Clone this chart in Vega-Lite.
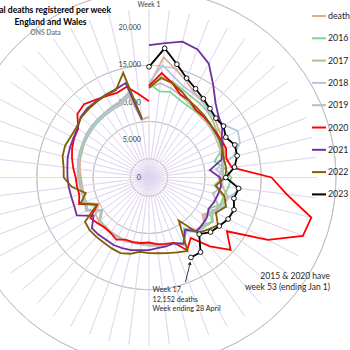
{
"$schema": "https://vega.github.io/schema/vega-lite/v6.json",
"width": 298, "height": 355,
"autosize": {"type": "none"},
"padding": {"left": 0, "top": 0, "right": 52, "bottom": 0},
"background": "white",
"config": {"view": {"stroke": null}, "font": "Lato"},
"datasets": {
"rings": [{"level":0},{"level":2500},{"level":5000},{"level":7500},{"level":10000},{"level":12500},{"level":15000},{"level":17500},{"level":20000},{"level":22500}],
"spokes": [{"week":1},{"week":2},{"week":3},{"week":4},{"week":5},{"week":6},{"week":7},{"week":8},{"week":9},{"week":10},{"week":11},{"week":12},{"week":13},{"week":14},{"week":15},{"week":16},{"week":17},{"week":18},{"week":19},{"week":20},{"week":21},{"week":22},{"week":23},{"week":24},{"week":25},{"week":26},{"week":27},{"week":28},{"week":29},{"week":30},{"week":31},{"week":32},{"week":33},{"week":34},{"week":35},{"week":36},{"week":37},{"week":38},{"week":39},{"week":40},{"week":41},{"week":42},{"week":43},{"week":44},{"week":45},{"week":46},{"week":47},{"week":48},{"week":49},{"week":50},{"week":51},{"week":52}],
"weekly": [
{"series":"deaths","week":1,"deaths":12300},{"series":"deaths","week":2,"deaths":16200},{"series":"deaths","week":3,"deaths":14900},{"series":"deaths","week":4,"deaths":13900},{"series":"deaths","week":5,"deaths":12900},{"series":"deaths","week":6,"deaths":12600},{"series":"deaths","week":7,"deaths":12000},{"series":"deaths","week":8,"deaths":11800},{"series":"deaths","week":9,"deaths":11300},{"series":"deaths","week":10,"deaths":11200},{"series":"deaths","week":11,"deaths":10700},{"series":"deaths","week":12,"deaths":10400},{"series":"deaths","week":13,"deaths":9800},{"series":"deaths","week":14,"deaths":9300},{"series":"deaths","week":15,"deaths":9900},{"series":"deaths","week":16,"deaths":10900},{"series":"deaths","week":17,"deaths":10300},{"series":"deaths","week":18,"deaths":9800},{"series":"deaths","week":19,"deaths":8700},{"series":"deaths","week":20,"deaths":9900},{"series":"deaths","week":21,"deaths":9300},{"series":"deaths","week":22,"deaths":8300},{"series":"deaths","week":23,"deaths":10000},{"series":"deaths","week":24,"deaths":9400},{"series":"deaths","week":25,"deaths":9200},{"series":"deaths","week":26,"deaths":9100},{"series":"deaths","week":27,"deaths":9000},{"series":"deaths","week":28,"deaths":8900},{"series":"deaths","week":29,"deaths":9000},{"series":"deaths","week":30,"deaths":9000},{"series":"deaths","week":31,"deaths":8900},{"series":"deaths","week":32,"deaths":8900},{"series":"deaths","week":33,"deaths":8800},{"series":"deaths","week":34,"deaths":8900},{"series":"deaths","week":35,"deaths":8700},{"series":"deaths","week":36,"deaths":7600},{"series":"deaths","week":37,"deaths":9400},{"series":"deaths","week":38,"deaths":9000},{"series":"deaths","week":39,"deaths":9000},{"series":"deaths","week":40,"deaths":9100},{"series":"deaths","week":41,"deaths":9300},{"series":"deaths","week":42,"deaths":9500},{"series":"deaths","week":43,"deaths":9600},{"series":"deaths","week":44,"deaths":9800},{"series":"deaths","week":45,"deaths":9900},{"series":"deaths","week":46,"deaths":10000},{"series":"deaths","week":47,"deaths":10100},{"series":"deaths","week":48,"deaths":10200},{"series":"deaths","week":49,"deaths":10300},{"series":"deaths","week":50,"deaths":10400},{"series":"deaths","week":51,"deaths":11200},{"series":"deaths","week":52,"deaths":7800},{"series":"deaths","week":53,"deaths":8100},
{"series":"2016","week":1,"deaths":12600},{"series":"2016","week":2,"deaths":11600},{"series":"2016","week":3,"deaths":11800},{"series":"2016","week":4,"deaths":11200},{"series":"2016","week":5,"deaths":10900},{"series":"2016","week":6,"deaths":10800},{"series":"2016","week":7,"deaths":10700},{"series":"2016","week":8,"deaths":10800},{"series":"2016","week":9,"deaths":10800},{"series":"2016","week":10,"deaths":10600},{"series":"2016","week":11,"deaths":10400},{"series":"2016","week":12,"deaths":9000},{"series":"2016","week":13,"deaths":10200},{"series":"2016","week":14,"deaths":11000},{"series":"2016","week":15,"deaths":10700},{"series":"2016","week":16,"deaths":10300},{"series":"2016","week":17,"deaths":10200},{"series":"2016","week":18,"deaths":9000},{"series":"2016","week":19,"deaths":10300},{"series":"2016","week":20,"deaths":9700},{"series":"2016","week":21,"deaths":9500},{"series":"2016","week":22,"deaths":8300},{"series":"2016","week":23,"deaths":10100},{"series":"2016","week":24,"deaths":9400},{"series":"2016","week":25,"deaths":9300},{"series":"2016","week":26,"deaths":9100},{"series":"2016","week":27,"deaths":9000},{"series":"2016","week":28,"deaths":9000},{"series":"2016","week":29,"deaths":8900},{"series":"2016","week":30,"deaths":9000},{"series":"2016","week":31,"deaths":8900},{"series":"2016","week":32,"deaths":8900},{"series":"2016","week":33,"deaths":8800},{"series":"2016","week":34,"deaths":8700},{"series":"2016","week":35,"deaths":7600},{"series":"2016","week":36,"deaths":9300},{"series":"2016","week":37,"deaths":9000},{"series":"2016","week":38,"deaths":9100},{"series":"2016","week":39,"deaths":9200},{"series":"2016","week":40,"deaths":9300},{"series":"2016","week":41,"deaths":9500},{"series":"2016","week":42,"deaths":9600},{"series":"2016","week":43,"deaths":9700},{"series":"2016","week":44,"deaths":9800},{"series":"2016","week":45,"deaths":9900},{"series":"2016","week":46,"deaths":10000},{"series":"2016","week":47,"deaths":10100},{"series":"2016","week":48,"deaths":10200},{"series":"2016","week":49,"deaths":10400},{"series":"2016","week":50,"deaths":10600},{"series":"2016","week":51,"deaths":11400},{"series":"2016","week":52,"deaths":7700},
{"series":"2017","week":1,"deaths":11900},{"series":"2017","week":2,"deaths":13600},{"series":"2017","week":3,"deaths":13200},{"series":"2017","week":4,"deaths":12600},{"series":"2017","week":5,"deaths":12200},{"series":"2017","week":6,"deaths":12000},{"series":"2017","week":7,"deaths":11800},{"series":"2017","week":8,"deaths":11400},{"series":"2017","week":9,"deaths":11000},{"series":"2017","week":10,"deaths":10600},{"series":"2017","week":11,"deaths":10400},{"series":"2017","week":12,"deaths":10300},{"series":"2017","week":13,"deaths":10000},{"series":"2017","week":14,"deaths":9900},{"series":"2017","week":15,"deaths":8800},{"series":"2017","week":16,"deaths":10200},{"series":"2017","week":17,"deaths":11000},{"series":"2017","week":18,"deaths":9500},{"series":"2017","week":19,"deaths":10400},{"series":"2017","week":20,"deaths":9900},{"series":"2017","week":21,"deaths":9700},{"series":"2017","week":22,"deaths":8400},{"series":"2017","week":23,"deaths":10200},{"series":"2017","week":24,"deaths":9500},{"series":"2017","week":25,"deaths":9300},{"series":"2017","week":26,"deaths":9200},{"series":"2017","week":27,"deaths":9100},{"series":"2017","week":28,"deaths":9000},{"series":"2017","week":29,"deaths":9000},{"series":"2017","week":30,"deaths":9000},{"series":"2017","week":31,"deaths":9000},{"series":"2017","week":32,"deaths":9000},{"series":"2017","week":33,"deaths":8900},{"series":"2017","week":34,"deaths":8900},{"series":"2017","week":35,"deaths":7800},{"series":"2017","week":36,"deaths":9500},{"series":"2017","week":37,"deaths":9100},{"series":"2017","week":38,"deaths":9200},{"series":"2017","week":39,"deaths":9300},{"series":"2017","week":40,"deaths":9500},{"series":"2017","week":41,"deaths":9600},{"series":"2017","week":42,"deaths":9700},{"series":"2017","week":43,"deaths":9800},{"series":"2017","week":44,"deaths":9900},{"series":"2017","week":45,"deaths":10100},{"series":"2017","week":46,"deaths":10200},{"series":"2017","week":47,"deaths":10300},{"series":"2017","week":48,"deaths":10400},{"series":"2017","week":49,"deaths":10600},{"series":"2017","week":50,"deaths":10800},{"series":"2017","week":51,"deaths":11600},{"series":"2017","week":52,"deaths":7900},
{"series":"2018","week":1,"deaths":12700},{"series":"2018","week":2,"deaths":15100},{"series":"2018","week":3,"deaths":13900},{"series":"2018","week":4,"deaths":13000},{"series":"2018","week":5,"deaths":12700},{"series":"2018","week":6,"deaths":12400},{"series":"2018","week":7,"deaths":12000},{"series":"2018","week":8,"deaths":11900},{"series":"2018","week":9,"deaths":12300},{"series":"2018","week":10,"deaths":13400},{"series":"2018","week":11,"deaths":13000},{"series":"2018","week":12,"deaths":11600},{"series":"2018","week":13,"deaths":9000},{"series":"2018","week":14,"deaths":10200},{"series":"2018","week":15,"deaths":12400},{"series":"2018","week":16,"deaths":11000},{"series":"2018","week":17,"deaths":10600},{"series":"2018","week":18,"deaths":9900},{"series":"2018","week":19,"deaths":9300},{"series":"2018","week":20,"deaths":10000},{"series":"2018","week":21,"deaths":9800},{"series":"2018","week":22,"deaths":8700},{"series":"2018","week":23,"deaths":10100},{"series":"2018","week":24,"deaths":9500},{"series":"2018","week":25,"deaths":9400},{"series":"2018","week":26,"deaths":9200},{"series":"2018","week":27,"deaths":9100},{"series":"2018","week":28,"deaths":9000},{"series":"2018","week":29,"deaths":9000},{"series":"2018","week":30,"deaths":9100},{"series":"2018","week":31,"deaths":9000},{"series":"2018","week":32,"deaths":8900},{"series":"2018","week":33,"deaths":8900},{"series":"2018","week":34,"deaths":8800},{"series":"2018","week":35,"deaths":7700},{"series":"2018","week":36,"deaths":9400},{"series":"2018","week":37,"deaths":9100},{"series":"2018","week":38,"deaths":9100},{"series":"2018","week":39,"deaths":9200},{"series":"2018","week":40,"deaths":9400},{"series":"2018","week":41,"deaths":9500},{"series":"2018","week":42,"deaths":9700},{"series":"2018","week":43,"deaths":9800},{"series":"2018","week":44,"deaths":9900},{"series":"2018","week":45,"deaths":10000},{"series":"2018","week":46,"deaths":10100},{"series":"2018","week":47,"deaths":10200},{"series":"2018","week":48,"deaths":10300},{"series":"2018","week":49,"deaths":10400},{"series":"2018","week":50,"deaths":10500},{"series":"2018","week":51,"deaths":11300},{"series":"2018","week":52,"deaths":7900},
{"series":"2019","week":1,"deaths":12000},{"series":"2019","week":2,"deaths":12700},{"series":"2019","week":3,"deaths":12300},{"series":"2019","week":4,"deaths":11800},{"series":"2019","week":5,"deaths":11300},{"series":"2019","week":6,"deaths":11000},{"series":"2019","week":7,"deaths":10700},{"series":"2019","week":8,"deaths":10600},{"series":"2019","week":9,"deaths":10500},{"series":"2019","week":10,"deaths":10300},{"series":"2019","week":11,"deaths":10200},{"series":"2019","week":12,"deaths":10000},{"series":"2019","week":13,"deaths":9900},{"series":"2019","week":14,"deaths":9800},{"series":"2019","week":15,"deaths":9900},{"series":"2019","week":16,"deaths":8800},{"series":"2019","week":17,"deaths":9800},{"series":"2019","week":18,"deaths":10200},{"series":"2019","week":19,"deaths":9000},{"series":"2019","week":20,"deaths":9900},{"series":"2019","week":21,"deaths":9700},{"series":"2019","week":22,"deaths":8400},{"series":"2019","week":23,"deaths":10000},{"series":"2019","week":24,"deaths":9400},{"series":"2019","week":25,"deaths":9300},{"series":"2019","week":26,"deaths":9100},{"series":"2019","week":27,"deaths":9000},{"series":"2019","week":28,"deaths":9000},{"series":"2019","week":29,"deaths":9000},{"series":"2019","week":30,"deaths":9100},{"series":"2019","week":31,"deaths":9000},{"series":"2019","week":32,"deaths":8900},{"series":"2019","week":33,"deaths":8900},{"series":"2019","week":34,"deaths":8800},{"series":"2019","week":35,"deaths":7700},{"series":"2019","week":36,"deaths":9500},{"series":"2019","week":37,"deaths":9200},{"series":"2019","week":38,"deaths":9200},{"series":"2019","week":39,"deaths":9300},{"series":"2019","week":40,"deaths":9500},{"series":"2019","week":41,"deaths":9600},{"series":"2019","week":42,"deaths":9800},{"series":"2019","week":43,"deaths":9900},{"series":"2019","week":44,"deaths":10000},{"series":"2019","week":45,"deaths":10200},{"series":"2019","week":46,"deaths":10300},{"series":"2019","week":47,"deaths":10400},{"series":"2019","week":48,"deaths":10500},{"series":"2019","week":49,"deaths":10700},{"series":"2019","week":50,"deaths":10900},{"series":"2019","week":51,"deaths":11600},{"series":"2019","week":52,"deaths":7900},
{"series":"2020","week":1,"deaths":12254},{"series":"2020","week":2,"deaths":14058},{"series":"2020","week":3,"deaths":12990},{"series":"2020","week":4,"deaths":11856},{"series":"2020","week":5,"deaths":11612},{"series":"2020","week":6,"deaths":10986},{"series":"2020","week":7,"deaths":10944},{"series":"2020","week":8,"deaths":10841},{"series":"2020","week":9,"deaths":10816},{"series":"2020","week":10,"deaths":10895},{"series":"2020","week":11,"deaths":11019},{"series":"2020","week":12,"deaths":10645},{"series":"2020","week":13,"deaths":11141},{"series":"2020","week":14,"deaths":16387},{"series":"2020","week":15,"deaths":18516},{"series":"2020","week":16,"deaths":22351},{"series":"2020","week":17,"deaths":21997},{"series":"2020","week":18,"deaths":17953},{"series":"2020","week":19,"deaths":12657},{"series":"2020","week":20,"deaths":14573},{"series":"2020","week":21,"deaths":12288},{"series":"2020","week":22,"deaths":9824},{"series":"2020","week":23,"deaths":10975},{"series":"2020","week":24,"deaths":9339},{"series":"2020","week":25,"deaths":9140},{"series":"2020","week":26,"deaths":8979},{"series":"2020","week":27,"deaths":8690},{"series":"2020","week":28,"deaths":8823},{"series":"2020","week":29,"deaths":8891},{"series":"2020","week":30,"deaths":8891},{"series":"2020","week":31,"deaths":9392},{"series":"2020","week":32,"deaths":9009},{"series":"2020","week":33,"deaths":8945},{"series":"2020","week":34,"deaths":9200},{"series":"2020","week":35,"deaths":9500},{"series":"2020","week":36,"deaths":7800},{"series":"2020","week":37,"deaths":10000},{"series":"2020","week":38,"deaths":9600},{"series":"2020","week":39,"deaths":9700},{"series":"2020","week":40,"deaths":9800},{"series":"2020","week":41,"deaths":10200},{"series":"2020","week":42,"deaths":10600},{"series":"2020","week":43,"deaths":11000},{"series":"2020","week":44,"deaths":11300},{"series":"2020","week":45,"deaths":11500},{"series":"2020","week":46,"deaths":12800},{"series":"2020","week":47,"deaths":13100},{"series":"2020","week":48,"deaths":12600},{"series":"2020","week":49,"deaths":12300},{"series":"2020","week":50,"deaths":12100},{"series":"2020","week":51,"deaths":12500},{"series":"2020","week":52,"deaths":11200},{"series":"2020","week":53,"deaths":10200},
{"series":"2021","week":1,"deaths":17700},{"series":"2021","week":2,"deaths":18100},{"series":"2021","week":3,"deaths":18700},{"series":"2021","week":4,"deaths":18300},{"series":"2021","week":5,"deaths":17200},{"series":"2021","week":6,"deaths":15100},{"series":"2021","week":7,"deaths":13400},{"series":"2021","week":8,"deaths":12400},{"series":"2021","week":9,"deaths":11900},{"series":"2021","week":10,"deaths":11000},{"series":"2021","week":11,"deaths":10500},{"series":"2021","week":12,"deaths":10000},{"series":"2021","week":13,"deaths":8200},{"series":"2021","week":14,"deaths":9500},{"series":"2021","week":15,"deaths":9700},{"series":"2021","week":16,"deaths":9500},{"series":"2021","week":17,"deaths":9300},{"series":"2021","week":18,"deaths":9000},{"series":"2021","week":19,"deaths":9400},{"series":"2021","week":20,"deaths":9500},{"series":"2021","week":21,"deaths":9600},{"series":"2021","week":22,"deaths":8500},{"series":"2021","week":23,"deaths":10000},{"series":"2021","week":24,"deaths":9400},{"series":"2021","week":25,"deaths":9500},{"series":"2021","week":26,"deaths":9500},{"series":"2021","week":27,"deaths":9700},{"series":"2021","week":28,"deaths":9800},{"series":"2021","week":29,"deaths":10000},{"series":"2021","week":30,"deaths":10100},{"series":"2021","week":31,"deaths":10200},{"series":"2021","week":32,"deaths":10100},{"series":"2021","week":33,"deaths":10200},{"series":"2021","week":34,"deaths":10200},{"series":"2021","week":35,"deaths":9000},{"series":"2021","week":36,"deaths":10900},{"series":"2021","week":37,"deaths":10700},{"series":"2021","week":38,"deaths":10700},{"series":"2021","week":39,"deaths":10800},{"series":"2021","week":40,"deaths":10900},{"series":"2021","week":41,"deaths":11000},{"series":"2021","week":42,"deaths":11200},{"series":"2021","week":43,"deaths":11300},{"series":"2021","week":44,"deaths":11400},{"series":"2021","week":45,"deaths":11600},{"series":"2021","week":46,"deaths":12200},{"series":"2021","week":47,"deaths":12400},{"series":"2021","week":48,"deaths":12400},{"series":"2021","week":49,"deaths":12500},{"series":"2021","week":50,"deaths":12600},{"series":"2021","week":51,"deaths":13000},{"series":"2021","week":52,"deaths":7800},
{"series":"2022","week":1,"deaths":12000},{"series":"2022","week":2,"deaths":13400},{"series":"2022","week":3,"deaths":13000},{"series":"2022","week":4,"deaths":12300},{"series":"2022","week":5,"deaths":11600},{"series":"2022","week":6,"deaths":11300},{"series":"2022","week":7,"deaths":11100},{"series":"2022","week":8,"deaths":10900},{"series":"2022","week":9,"deaths":10700},{"series":"2022","week":10,"deaths":10700},{"series":"2022","week":11,"deaths":10500},{"series":"2022","week":12,"deaths":10300},{"series":"2022","week":13,"deaths":10400},{"series":"2022","week":14,"deaths":10200},{"series":"2022","week":15,"deaths":9000},{"series":"2022","week":16,"deaths":10400},{"series":"2022","week":17,"deaths":11000},{"series":"2022","week":18,"deaths":10100},{"series":"2022","week":19,"deaths":11200},{"series":"2022","week":20,"deaths":10500},{"series":"2022","week":21,"deaths":9900},{"series":"2022","week":22,"deaths":7000},{"series":"2022","week":23,"deaths":11100},{"series":"2022","week":24,"deaths":10700},{"series":"2022","week":25,"deaths":10400},{"series":"2022","week":26,"deaths":10200},{"series":"2022","week":27,"deaths":10100},{"series":"2022","week":28,"deaths":10000},{"series":"2022","week":29,"deaths":10500},{"series":"2022","week":30,"deaths":10800},{"series":"2022","week":31,"deaths":10700},{"series":"2022","week":32,"deaths":10600},{"series":"2022","week":33,"deaths":10600},{"series":"2022","week":34,"deaths":10600},{"series":"2022","week":35,"deaths":10400},{"series":"2022","week":36,"deaths":7900},{"series":"2022","week":37,"deaths":9800},{"series":"2022","week":38,"deaths":8700},{"series":"2022","week":39,"deaths":10400},{"series":"2022","week":40,"deaths":11400},{"series":"2022","week":41,"deaths":11500},{"series":"2022","week":42,"deaths":11900},{"series":"2022","week":43,"deaths":12000},{"series":"2022","week":44,"deaths":11800},{"series":"2022","week":45,"deaths":11800},{"series":"2022","week":46,"deaths":12100},{"series":"2022","week":47,"deaths":12200},{"series":"2022","week":48,"deaths":12300},{"series":"2022","week":49,"deaths":12400},{"series":"2022","week":50,"deaths":12500},{"series":"2022","week":51,"deaths":14400},{"series":"2022","week":52,"deaths":8000},
{"series":"2023","week":1,"deaths":14800},{"series":"2023","week":2,"deaths":17400},{"series":"2023","week":3,"deaths":15600},{"series":"2023","week":4,"deaths":14200},{"series":"2023","week":5,"deaths":13400},{"series":"2023","week":6,"deaths":12800},{"series":"2023","week":7,"deaths":12300},{"series":"2023","week":8,"deaths":11950},{"series":"2023","week":9,"deaths":12100},{"series":"2023","week":10,"deaths":11600},{"series":"2023","week":11,"deaths":12270},{"series":"2023","week":12,"deaths":12140},{"series":"2023","week":13,"deaths":11520},{"series":"2023","week":14,"deaths":10270},{"series":"2023","week":15,"deaths":12070},{"series":"2023","week":16,"deaths":11690},{"series":"2023","week":17,"deaths":12152},{"series":"2023","week":18,"deaths":11950},{"series":"2023","week":19,"deaths":11430},{"series":"2023","week":20,"deaths":11000},{"series":"2023","week":21,"deaths":10120},{"series":"2023","week":22,"deaths":12130},{"series":"2023","week":23,"deaths":12070}
]
},
"layer": [
{"data": {"name": "rings"}, "transform": [{"filter": "datum.level > 0"}],
 "mark": {"type": "arc", "theta": 0, "theta2": 6.2832, "filled": false, "stroke": "#c4c4c4", "strokeWidth": 1},
 "encoding": {"radius": {"field": "level", "type": "quantitative", "scale": {"type": "linear", "domain": [0, 22500], "range": [0, 168.3], "zero": true}}}},
{"data": {"name": "spokes"},
 "mark": {"type": "arc", "filled": false, "stroke": "#e0d6ef", "strokeWidth": 0.75},
 "encoding": {
   "theta": {"field": "week", "type": "quantitative", "stack": null, "scale": {"type": "linear", "domain": [1, 53], "range": [0, 6.283185]}},
   "theta2": {"field": "week"},
   "radius": {"datum": 22500, "type": "quantitative"}}},
{"data": {"name": "rings"}, "transform": [{"filter": "datum.level % 5000 == 0 && datum.level <= 20000"}],
 "mark": {"type": "text", "align": "right", "baseline": "middle", "dx": -8, "fontSize": 7.2, "color": "#404040"},
 "encoding": {
   "x": {"datum": 0, "type": "quantitative", "scale": {"domain": [-19920, 19920], "nice": false, "zero": false}, "axis": null},
   "y": {"field": "level", "type": "quantitative", "scale": {"domain": [-23730, 23730], "nice": false, "zero": false}, "axis": null},
   "text": {"field": "level", "type": "quantitative", "format": ","}}},
{"data": {"values": [{}]},
 "mark": {"type": "text", "text": "Week 1", "align": "center", "baseline": "middle", "fontSize": 6.8, "color": "#404040"},
 "encoding": {"x": {"datum": 0, "type": "quantitative"}, "y": {"datum": 23060, "type": "quantitative"}}},
{"data": {"name": "weekly"},
 "transform": [
   {"calculate": "datum.deaths * sin((datum.week - 1) * 2 * PI / 52)", "as": "px"},
   {"calculate": "datum.deaths * cos((datum.week - 1) * 2 * PI / 52)", "as": "py"}],
 "layer": [
   {"mark": {"type": "line", "strokeWidth": 1.8, "clip": false},
    "encoding": {
      "x": {"field": "px", "type": "quantitative"},
      "y": {"field": "py", "type": "quantitative"},
      "order": {"field": "week", "type": "quantitative"},
      "color": {"field": "series", "type": "nominal",
        "scale": {"domain": ["deaths", "2016", "2017", "2018", "2019", "2020", "2021", "2022", "2023"],
                  "range": ["#dcae96", "#78d896", "#a3c49a", "#b4c7e0", "#bcbcbc", "#ff0000", "#7030a0", "#806000", "#000000"]},
        "legend": {"orient": "none", "legendX": 311, "legendY": 8, "title": null, "padding": 0,
                   "symbolType": "stroke", "symbolSize": 196, "symbolStrokeWidth": 2,
                   "labelFontSize": 8.8, "labelColor": "#222222", "labelFont": "Lato", "labelOffset": 1, "rowPadding": 9.3}}}},
   {"transform": [{"filter": "datum.series == '2023'"}],
    "mark": {"type": "point", "shape": "circle", "filled": true, "fill": "white", "stroke": "black", "strokeWidth": 0.9, "size": 22, "opacity": 1},
    "encoding": {"x": {"field": "px", "type": "quantitative"}, "y": {"field": "py", "type": "quantitative"}}}
 ]},
{"data": {"values": [{}]},
 "mark": {"type": "text", "text": ["Week 17,", "12,152 deaths", "Week ending 28 April"], "align": "left", "baseline": "top", "fontSize": 7.2, "lineHeight": 9.7, "color": "#262626"},
 "encoding": {"x": {"datum": 468, "type": "quantitative"}, "y": {"datum": -14505, "type": "quantitative"}}},
{"data": {"values": [{}]},
 "mark": {"type": "text", "text": ["2015 & 2020 have", "week 53 (ending Jan 1)"], "align": "right", "baseline": "top", "fontSize": 8.5, "lineHeight": 11.3, "color": "#262626"},
 "encoding": {"x": {"datum": 24198, "type": "quantitative"}, "y": {"datum": -12567, "type": "quantitative"}}},
{"data": {"values": [{}]},
 "mark": {"type": "rule", "color": "#262626", "strokeWidth": 0.9},
 "encoding": {"x": {"datum": 4880, "type": "quantitative"}, "y": {"datum": -13970, "type": "quantitative"}, "x2": {"datum": 5430}, "y2": {"datum": -11700}}},
{"data": {"values": [{}]},
 "mark": {"type": "point", "shape": "triangle-up", "filled": true, "color": "#262626", "size": 16, "angle": 13, "opacity": 1},
 "encoding": {"x": {"datum": 5480, "type": "quantitative"}, "y": {"datum": -11450, "type": "quantitative"}}},
{"data": {"values": [{}]},
 "mark": {"type": "text", "text": "Total deaths registered per week", "align": "center", "baseline": "middle", "fontSize": 8.6, "fontWeight": "bold", "color": "#000000"},
 "encoding": {"x": {"datum": -13369, "type": "quantitative"}, "y": {"datum": 22393, "type": "quantitative"}}},
{"data": {"values": [{}]},
 "mark": {"type": "text", "text": "England and Wales", "align": "center", "baseline": "middle", "fontSize": 8.6, "fontWeight": "bold", "color": "#000000"},
 "encoding": {"x": {"datum": -13168, "type": "quantitative"}, "y": {"datum": 20749, "type": "quantitative"}}},
{"data": {"values": [{}]},
 "mark": {"type": "text", "text": "ONS Data", "align": "center", "baseline": "middle", "fontSize": 6.8, "fontWeight": "bold", "color": "#808080"},
 "encoding": {"x": {"datum": -13837, "type": "quantitative"}, "y": {"datum": 19278, "type": "quantitative"}}}
]
}
